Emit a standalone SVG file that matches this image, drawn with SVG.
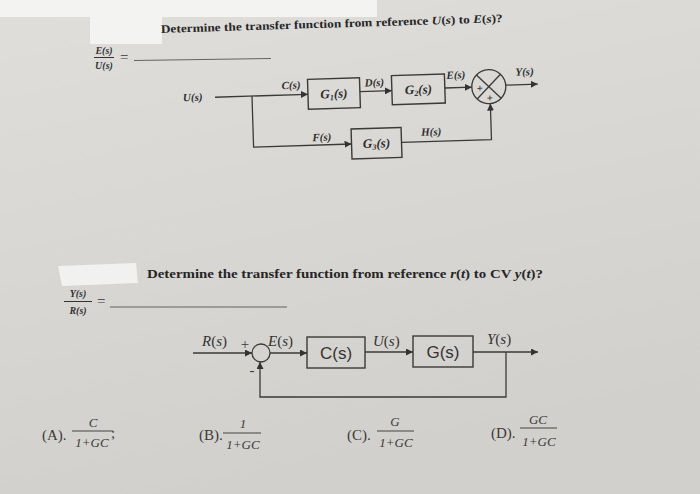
<svg xmlns="http://www.w3.org/2000/svg" width="700" height="494" viewBox="0 0 700 494">
<defs>
<linearGradient id="bg" x1="0" y1="0" x2="0.3" y2="1">
<stop offset="0" stop-color="#e0dedb"/>
<stop offset="1" stop-color="#d2d0cc"/>
</linearGradient>
<marker id="ah" viewBox="0 0 10 10" refX="10" refY="5" markerWidth="7" markerHeight="7" markerUnits="userSpaceOnUse" orient="auto">
<path d="M0,0 L10,5 L0,10 z" fill="#333"/>
</marker>
<style>
.ln{stroke:#3a3a3a;stroke-width:1.3;fill:none}
.bx{stroke:#3a3a3a;stroke-width:1.4;fill:none}
.lb{font-family:"Liberation Serif",serif;font-weight:bold;font-style:italic;font-size:11px;fill:#2e2e2e}
.bt{font-family:"Liberation Serif",serif;font-weight:bold;font-style:italic;font-size:13px;fill:#2e2e2e}
.q{font-family:"Liberation Serif",serif;font-weight:bold;font-size:11.5px;fill:#262626}
.l2{font-family:"Liberation Serif",serif;font-style:italic;font-size:15px;fill:#333}
.b2{font-family:"Liberation Sans",sans-serif;font-size:17px;fill:#333}
.an{font-family:"Liberation Serif",serif;font-size:15px;fill:#3a3a3a}
.fr{font-family:"Liberation Serif",serif;font-style:italic;font-size:13px;fill:#3a3a3a}
.fb{font-family:"Liberation Serif",serif;font-weight:bold;font-style:italic;font-size:10px;fill:#333}
</style>
</defs>
<rect width="700" height="494" fill="url(#bg)"/>
<rect x="0" y="0" width="377" height="17" fill="#f3f3f1"/>
<rect x="90" y="0" width="72" height="44" fill="#f3f3f1"/>
<path d="M58,266 L136,263 L138,283 L62,286 Z" fill="#f1f1ef"/>

<g id="question1" transform="rotate(-1.8 350 95)">
<text class="q" x="163" y="27" textLength="342" lengthAdjust="spacingAndGlyphs">Determine the transfer function from reference <tspan font-style="italic">U</tspan>(<tspan font-style="italic">s</tspan>) to <tspan font-style="italic">E</tspan>(<tspan font-style="italic">s</tspan>)?</text>
</g>

<g id="answer1">
<text class="fb" x="104" y="54" text-anchor="middle">E(s)</text>
<line x1="94" y1="57.5" x2="114" y2="57.5" stroke="#333" stroke-width="1"/>
<text class="fb" x="104" y="69" text-anchor="middle">U(s)</text>
<text class="an" x="120" y="62" font-size="12">=</text>
<line x1="134" y1="60.5" x2="271" y2="58.5" stroke="#555" stroke-width="0.9"/>
</g>

<g id="diagram1" transform="rotate(-1.8 350 95)">
<g id="connectors1">
<line class="ln" x1="215" y1="93" x2="308" y2="93" marker-end="url(#ah)"/>
<polyline class="ln" points="252,93 252,144 350,144" marker-end="url(#ah)"/>
<line class="ln" x1="360" y1="92" x2="392" y2="92" marker-end="url(#ah)"/>
<line class="ln" x1="445" y1="91" x2="472" y2="91" marker-end="url(#ah)"/>
<line class="ln" x1="506" y1="90" x2="538" y2="90" marker-end="url(#ah)"/>
<polyline class="ln" points="400,144 490,144 490,108" marker-end="url(#ah)"/>
</g>
<g id="U1"><text class="lb" x="183" y="96">U(s)</text></g>
<g id="C1lbl"><text class="lb" x="282" y="87">C(s)</text></g>
<g id="G1">
<rect class="bx" x="308" y="78" width="52" height="30"/>
<text class="bt" x="334" y="97.5" text-anchor="middle">G<tspan font-size="8" dy="2">1</tspan><tspan dy="-2">(s)</tspan></text>
</g>
<g id="D1lbl"><text class="lb" x="365" y="87">D(s)</text></g>
<g id="G2">
<rect class="bx" x="392" y="77" width="53" height="29"/>
<text class="bt" x="418.5" y="96" text-anchor="middle">G<tspan font-size="8" dy="2">2</tspan><tspan dy="-2">(s)</tspan></text>
</g>
<g id="E1lbl"><text class="lb" x="447" y="82">E(s)</text></g>
<g id="sum1">
<circle class="ln" cx="489" cy="91" r="17"/>
<line class="ln" x1="477" y1="79" x2="501" y2="103"/>
<line class="ln" x1="501" y1="79" x2="477" y2="103"/>
<text class="lb" x="480" y="96" text-anchor="middle" font-style="normal" font-size="13">+</text>
<text class="lb" x="489.5" y="106" text-anchor="middle" font-style="normal" font-size="13">+</text>
</g>
<g id="Y1lbl"><text class="lb" x="516" y="81">Y(s)</text></g>
<g id="F1lbl"><text class="lb" x="311" y="140">F(s)</text></g>
<g id="G3">
<rect class="bx" x="350" y="129" width="50" height="30"/>
<text class="bt" x="375" y="148.5" text-anchor="middle">G<tspan font-size="8" dy="2">3</tspan><tspan dy="-2">(s)</tspan></text>
</g>
<g id="H1lbl"><text class="lb" x="420" y="138">H(s)</text></g>
</g>

<g id="question2">
<text class="q" x="147" y="278" font-size="12" textLength="396" lengthAdjust="spacingAndGlyphs">Determine the transfer function from reference <tspan font-style="italic">r</tspan>(<tspan font-style="italic">t</tspan>) to CV <tspan font-style="italic">y</tspan>(<tspan font-style="italic">t</tspan>)?</text>
</g>

<g id="answer2">
<text class="fb" x="78" y="297" text-anchor="middle" font-size="11">Y(s)</text>
<line x1="64" y1="301.5" x2="92" y2="301.5" stroke="#333" stroke-width="1"/>
<text class="fb" x="78" y="314" text-anchor="middle" font-size="11">R(s)</text>
<text class="an" x="97" y="306" font-size="13">=</text>
<line x1="110" y1="307" x2="287" y2="307" stroke="#555" stroke-width="0.9"/>
</g>

<g id="diagram2">
<g id="connectors2">
<line class="ln" x1="193" y1="353" x2="252" y2="353" marker-end="url(#ah)"/>
<line class="ln" x1="270" y1="353" x2="307" y2="353" marker-end="url(#ah)"/>
<line class="ln" x1="365" y1="352" x2="413" y2="352" marker-end="url(#ah)"/>
<line class="ln" x1="473" y1="352" x2="538" y2="352" marker-end="url(#ah)"/>
<polyline class="ln" points="506,352 506,397 260,397 260,362" marker-end="url(#ah)"/>
</g>
<g id="R2lbl"><text class="l2" x="202" y="346"><tspan>R</tspan><tspan font-style="normal">(</tspan>s<tspan font-style="normal">)</tspan></text></g>
<g id="sum2">
<circle class="ln" cx="261" cy="353" r="9"/>
<text class="an" x="245" y="349" text-anchor="middle" font-size="14">+</text>
<text class="an" x="252" y="375" text-anchor="middle" font-size="14">-</text>
</g>
<g id="E2lbl"><text class="l2" x="268" y="346"><tspan>E</tspan><tspan font-style="normal">(</tspan>s<tspan font-style="normal">)</tspan></text></g>
<g id="C2">
<rect class="bx" x="307" y="337" width="58" height="31"/>
<text class="b2" x="336" y="358.5" text-anchor="middle">C(s)</text>
</g>
<g id="U2lbl"><text class="l2" x="373" y="346"><tspan>U</tspan><tspan font-style="normal">(</tspan>s<tspan font-style="normal">)</tspan></text></g>
<g id="G2b">
<rect class="bx" x="413" y="336" width="60" height="31"/>
<text class="b2" x="443" y="357.5" text-anchor="middle">G(s)</text>
</g>
<g id="Y2lbl"><text class="l2" x="487" y="344"><tspan>Y</tspan><tspan font-style="normal">(</tspan>s<tspan font-style="normal">)</tspan></text></g>
</g>

<g id="choices">
<g id="optA">
<text class="an" x="42" y="440">(A).</text>
<text class="fr" x="93" y="427" text-anchor="middle">C</text>
<line x1="72" y1="431" x2="113" y2="431" stroke="#444" stroke-width="1"/>
<text class="fr" x="92" y="447" text-anchor="middle">1+GC</text>
<text class="an" x="111" y="438" font-size="14">;</text>
</g>
<g id="optB">
<text class="an" x="199" y="440">(B).</text>
<text class="fr" x="243" y="428" text-anchor="middle" font-style="normal">1</text>
<line x1="223" y1="433" x2="261" y2="433" stroke="#444" stroke-width="1"/>
<text class="fr" x="243" y="449" text-anchor="middle">1+GC</text>
</g>
<g id="optC">
<text class="an" x="347" y="440">(C).</text>
<text class="fr" x="395" y="426" text-anchor="middle">G</text>
<line x1="377" y1="431" x2="414" y2="431" stroke="#444" stroke-width="1"/>
<text class="fr" x="396" y="447" text-anchor="middle">1+GC</text>
</g>
<g id="optD">
<text class="an" x="491" y="438">(D).</text>
<text class="fr" x="538" y="424" text-anchor="middle">GC</text>
<line x1="520" y1="428" x2="557" y2="428" stroke="#444" stroke-width="1"/>
<text class="fr" x="539" y="446" text-anchor="middle">1+GC</text>
</g>
</g>
</svg>
